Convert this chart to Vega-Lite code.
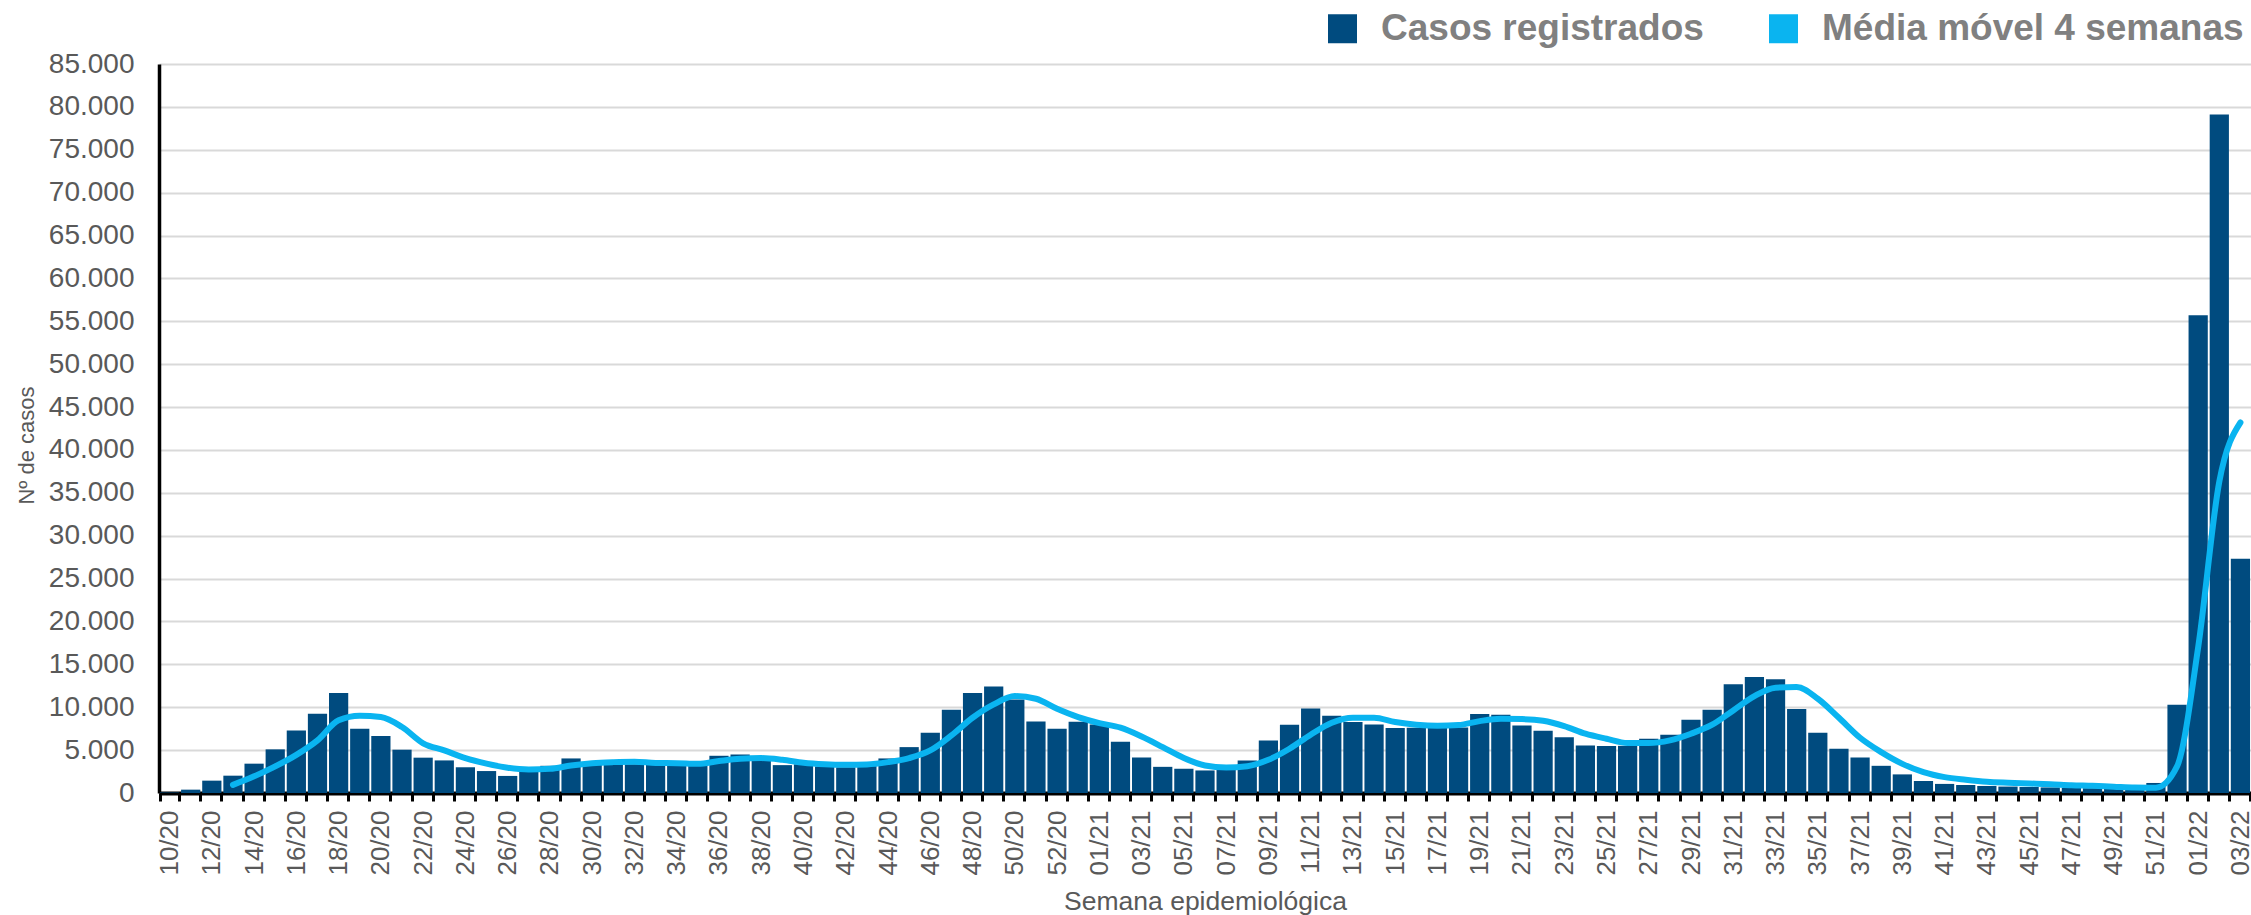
{
  "$schema": "https://vega.github.io/schema/vega-lite/v6.json",
  "autosize": {"type": "none"},
  "padding": {"left": 159, "top": 64, "right": 0, "bottom": 122},
  "width": 2092,
  "height": 729,
  "background": "white",
  "config": {
    "font": "Liberation Sans",
    "view": {"stroke": null},
    "axis": {"labelFont": "Liberation Sans", "titleFont": "Liberation Sans"}
  },
  "data": {
    "values": [
      {"semana": "10/20", "casos": 60, "media": null},
      {"semana": "11/20", "casos": 390, "media": null},
      {"semana": "12/20", "casos": 1440, "media": null},
      {"semana": "13/20", "casos": 2020, "media": 950},
      {"semana": "14/20", "casos": 3420, "media": 1940},
      {"semana": "15/20", "casos": 5090, "media": 3100},
      {"semana": "16/20", "casos": 7280, "media": 4450},
      {"semana": "17/20", "casos": 9250, "media": 6140},
      {"semana": "18/20", "casos": 11650, "media": 8470},
      {"semana": "19/20", "casos": 7500, "media": 9000},
      {"semana": "20/20", "casos": 6640, "media": 8850},
      {"semana": "21/20", "casos": 5050, "media": 7690},
      {"semana": "22/20", "casos": 4120, "media": 5800},
      {"semana": "23/20", "casos": 3800, "media": 4970},
      {"semana": "24/20", "casos": 3000, "media": 4060},
      {"semana": "25/20", "casos": 2560, "media": 3420},
      {"semana": "26/20", "casos": 1990, "media": 2940},
      {"semana": "27/20", "casos": 2650, "media": 2740},
      {"semana": "28/20", "casos": 3170, "media": 2820},
      {"semana": "29/20", "casos": 4030, "media": 3210},
      {"semana": "30/20", "casos": 3300, "media": 3480},
      {"semana": "31/20", "casos": 3350, "media": 3600},
      {"semana": "32/20", "casos": 3350, "media": 3650},
      {"semana": "33/20", "casos": 3300, "media": 3500},
      {"semana": "34/20", "casos": 3280, "media": 3480},
      {"semana": "35/20", "casos": 3300, "media": 3400},
      {"semana": "36/20", "casos": 4340, "media": 3720},
      {"semana": "37/20", "casos": 4490, "media": 3990},
      {"semana": "38/20", "casos": 3800, "media": 4070},
      {"semana": "39/20", "casos": 3250, "media": 3870},
      {"semana": "40/20", "casos": 3350, "media": 3520},
      {"semana": "41/20", "casos": 3100, "media": 3350},
      {"semana": "42/20", "casos": 3000, "media": 3290},
      {"semana": "43/20", "casos": 3250, "media": 3330},
      {"semana": "44/20", "casos": 4030, "media": 3600},
      {"semana": "45/20", "casos": 5350, "media": 4070},
      {"semana": "46/20", "casos": 7020, "media": 4960},
      {"semana": "47/20", "casos": 9710, "media": 6710},
      {"semana": "48/20", "casos": 11650, "media": 8770},
      {"semana": "49/20", "casos": 12430, "media": 10330},
      {"semana": "50/20", "casos": 10900, "media": 11300},
      {"semana": "51/20", "casos": 8350, "media": 10990},
      {"semana": "52/20", "casos": 7490, "media": 9820},
      {"semana": "53/20", "casos": 8310, "media": 8850},
      {"semana": "01/21", "casos": 8000, "media": 8150},
      {"semana": "02/21", "casos": 5970, "media": 7610},
      {"semana": "03/21", "casos": 4140, "media": 6590},
      {"semana": "04/21", "casos": 3050, "media": 5350},
      {"semana": "05/21", "casos": 2820, "media": 4070},
      {"semana": "06/21", "casos": 2630, "media": 3210},
      {"semana": "07/21", "casos": 2700, "media": 2980},
      {"semana": "08/21", "casos": 3790, "media": 3130},
      {"semana": "09/21", "casos": 6130, "media": 3870},
      {"semana": "10/21", "casos": 7960, "media": 5160},
      {"semana": "11/21", "casos": 9860, "media": 6790},
      {"semana": "12/21", "casos": 9010, "media": 8190},
      {"semana": "13/21", "casos": 8270, "media": 8770},
      {"semana": "14/21", "casos": 8000, "media": 8770},
      {"semana": "15/21", "casos": 7570, "media": 8270},
      {"semana": "16/21", "casos": 7600, "media": 7960},
      {"semana": "17/21", "casos": 7600, "media": 7840},
      {"semana": "18/21", "casos": 7650, "media": 7920},
      {"semana": "19/21", "casos": 9200, "media": 8380},
      {"semana": "20/21", "casos": 9120, "media": 8650},
      {"semana": "21/21", "casos": 7880, "media": 8620},
      {"semana": "22/21", "casos": 7270, "media": 8420},
      {"semana": "23/21", "casos": 6490, "media": 7800},
      {"semana": "24/21", "casos": 5540, "media": 6910},
      {"semana": "25/21", "casos": 5470, "media": 6320},
      {"semana": "26/21", "casos": 5500, "media": 5820},
      {"semana": "27/21", "casos": 6320, "media": 5820},
      {"semana": "28/21", "casos": 6790, "media": 6130},
      {"semana": "29/21", "casos": 8540, "media": 6910},
      {"semana": "30/21", "casos": 9710, "media": 7960},
      {"semana": "31/21", "casos": 12670, "media": 9630},
      {"semana": "32/21", "casos": 13520, "media": 11300},
      {"semana": "33/21", "casos": 13250, "media": 12280},
      {"semana": "34/21", "casos": 9790, "media": 12350},
      {"semana": "35/21", "casos": 7020, "media": 10990},
      {"semana": "36/21", "casos": 5160, "media": 8770},
      {"semana": "37/21", "casos": 4140, "media": 6440},
      {"semana": "38/21", "casos": 3170, "media": 4770},
      {"semana": "39/21", "casos": 2170, "media": 3400},
      {"semana": "40/21", "casos": 1400, "media": 2430},
      {"semana": "41/21", "casos": 1060, "media": 1850},
      {"semana": "42/21", "casos": 930, "media": 1540},
      {"semana": "43/21", "casos": 820, "media": 1300},
      {"semana": "44/21", "casos": 750, "media": 1190},
      {"semana": "45/21", "casos": 700, "media": 1110},
      {"semana": "46/21", "casos": 650, "media": 1030},
      {"semana": "47/21", "casos": 600, "media": 910},
      {"semana": "48/21", "casos": 560, "media": 840},
      {"semana": "49/21", "casos": 520, "media": 740},
      {"semana": "50/21", "casos": 480, "media": 640},
      {"semana": "51/21", "casos": 1170, "media": 620},
      {"semana": "52/21", "casos": 10300, "media": 3100},
      {"semana": "01/22", "casos": 55700, "media": 17000},
      {"semana": "02/22", "casos": 79100, "media": 36300},
      {"semana": "03/22", "casos": 27300, "media": 43200}
    ]
  },
  "encoding": {
    "x": {
      "field": "semana",
      "type": "ordinal",
      "sort": null,
      "scale": {"paddingInner": 0.09, "paddingOuter": 0.045},
      "axis": {
        "title": "Semana epidemiológica",
        "titleFontSize": 26.5,
        "titleColor": "#595959",
        "titleFontWeight": "normal",
        "titleBaseline": "alphabetic",
        "titleY": 116,
        "labelAngle": 270,
        "labelFontSize": 26,
        "labelColor": "#595959",
        "labelPadding": 9,
        "labelOverlap": false,
        "labelExpr": "(substring(datum.label,3,5)=='20' ? (toNumber(substring(datum.label,0,2))%2==0) : (toNumber(substring(datum.label,0,2))%2==1)) ? datum.label : ''",
        "domainColor": "#000000",
        "domainWidth": 4,
        "tickColor": "#000000",
        "tickWidth": 3,
        "tickSize": 8,
        "tickBand": "extent",
        "grid": false
      }
    }
  },
  "layer": [
    {
      "mark": {"type": "bar"},
      "encoding": {
        "y": {
          "field": "casos",
          "type": "quantitative",
          "scale": {"domain": [0, 85000], "nice": false},
          "axis": {
            "title": "Nº de casos",
            "titleFontSize": 22,
            "titleColor": "#595959",
            "titleFontWeight": "normal",
            "titleAngle": 270,
            "titleAlign": "center",
            "titleBaseline": "middle",
            "titleX": -133,
            "titleY": 381,
            "values": [0, 5000, 10000, 15000, 20000, 25000, 30000, 35000, 40000, 45000, 50000, 55000, 60000, 65000, 70000, 75000, 80000, 85000],
            "labelExpr": "replace(format(datum.value, ','), ',', '.')",
            "labelFontSize": 28,
            "labelColor": "#595959",
            "labelPadding": 25,
            "ticks": false,
            "domainColor": "#000000",
            "domainWidth": 3.5,
            "gridColor": "#d9d9d9",
            "gridWidth": 2
          }
        },
        "color": {
          "datum": "Casos registrados",
          "type": "nominal",
          "scale": {"domain": ["Casos registrados", "Média móvel 4 semanas"], "range": ["#004B7F", "#0AB4F0"]},
          "legend": {
            "title": null,
            "orient": "none",
            "direction": "horizontal",
            "legendX": 1165,
            "legendY": -54,
            "padding": 0,
            "symbolType": "square",
            "symbolSize": 841,
            "symbolStrokeWidth": 0,
            "labelFontSize": 37,
            "labelFontWeight": "bold",
            "labelColor": "#808080",
            "labelFont": "Liberation Sans",
            "labelOffset": 20,
            "labelLimit": 1000,
            "columnPadding": 61,
            "encode": {"symbols": {"update": {"fill": {"scale": "color", "field": "value"}, "strokeWidth": {"value": 0}, "opacity": {"value": 1}}}}
          }
        }
      }
    },
    {
      "mark": {"type": "line", "strokeWidth": 6, "interpolate": "monotone", "strokeCap": "round", "strokeJoin": "round"},
      "encoding": {
        "y": {"field": "media", "type": "quantitative"},
        "color": {
          "datum": "Média móvel 4 semanas",
          "type": "nominal"
        }
      }
    }
  ]
}
